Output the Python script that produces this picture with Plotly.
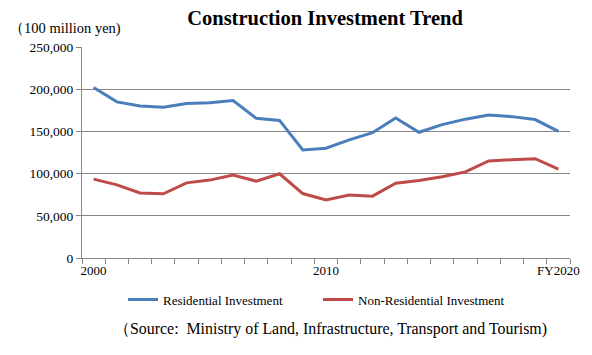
import plotly.graph_objects as go

years = list(range(2000, 2021))
residential = [202000, 185000, 180000, 178500, 183000, 184000, 186500, 165500, 163000, 128000,
               130000, 140000, 148500, 166000, 149000, 158000, 164500, 169500, 167500, 164000, 150000]
non_residential = [93500, 86700, 77000, 76000, 89000, 92300, 98200, 91000, 99800, 76400,
                   68900, 74500, 73300, 88700, 91800, 96200, 102000, 115000, 116400, 117600, 105300]
x_tick_vals = [2000, 2010, 2020]
x_tick_text = ["2000", "2010", "FY2020"]
y_tick_vals = [0, 50000, 100000, 150000, 200000, 250000]

FONT = "Liberation Serif, Times New Roman, serif"
# page body has an 8px margin, so the figure is drawn 8px smaller and offset
W, H = 584, 347
L, R, T, B = 74, 22, 39, 97
PW, PH = W - L - R, H - T - B

fig = go.Figure()
fig.add_trace(go.Scatter(x=years, y=residential, mode="lines", name="Residential Investment",
                         line=dict(color="#4A7EBB", width=3)))
fig.add_trace(go.Scatter(x=years, y=non_residential, mode="lines", name="Non-Residential Investment",
                         line=dict(color="#BE4B48", width=3)))

fig.update_layout(
    width=W, height=H,
    margin=dict(l=L, r=R, t=T, b=B),
    paper_bgcolor="white", plot_bgcolor="white",
    font=dict(family=FONT, size=13, color="black"),
    title=dict(text="<b>Construction Investment Trend</b>", x=317 / W, xanchor="center",
               y=1 - 3 / H, yanchor="top", pad=dict(t=0, b=0),
               font=dict(family=FONT, size=20.5, color="black")),
    showlegend=True,
    legend=dict(orientation="h", x=41 / PW, xanchor="left", y=-0.126, yanchor="top",
                font=dict(family=FONT, size=13, color="black"), entrywidth=150,
                entrywidthmode="pixels", bgcolor="rgba(0,0,0,0)"),
    xaxis=dict(range=[1999.5, 2020.5], tickvals=x_tick_vals, ticktext=x_tick_text,
               ticks="", showgrid=False, showline=True, linecolor="#868686", linewidth=1,
               zeroline=False, tickfont=dict(family=FONT, size=13, color="black"),
               minor=dict(tick0=1999.5, dtick=1, ticks="outside", ticklen=5, tickcolor="#868686",
                          showgrid=False)),
    yaxis=dict(range=[0, 250000], tickvals=y_tick_vals, tickformat=",", showgrid=True,
               gridcolor="#868686", gridwidth=1, showline=True, linecolor="#868686", linewidth=1,
               ticks="outside", ticklen=5, tickcolor="#868686", zeroline=False,
               tickfont=dict(family=FONT, size=13.5, color="black")),
)
fig.add_annotation(text="（100 million yen)", xref="paper", yref="paper", x=-L / PW,
                   y=1 + (T - 20) / PH, xanchor="left", yanchor="middle", showarrow=False,
                   borderpad=0, font=dict(family=FONT, size=14.5, color="black"))
fig.add_annotation(text="（Source:  Ministry of Land, Infrastructure, Transport and Tourism)",
                   xref="paper", yref="paper", x=(541 - L) / PW, y=-(321 - (T + PH)) / PH,
                   xanchor="right", yanchor="middle", showarrow=False,
                   font=dict(family=FONT, size=15.9, color="black"))
fig.write_html("out.html")
